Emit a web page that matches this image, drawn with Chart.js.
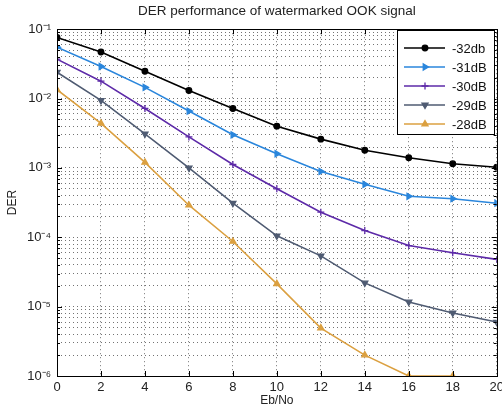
<!DOCTYPE html>
<html>
<head>
<meta charset="utf-8">
<script src="https://cdn.jsdelivr.net/npm/chart.js@4"></script>
<style>
  html, body { margin: 0; padding: 0; background: #fff; }
  #wrap { width: 502px; height: 409px; }
</style>
</head>
<body>
<div id="wrap"><canvas id="der-chart" width="502" height="409"></canvas></div>
<script>
// Eb/No in dB
var ebNo = [0, 2, 4, 6, 8, 10, 12, 14, 16, 18, 20];

// DER, one array per watermark level
var der32 = [0.076, 0.047, 0.0247, 0.0131, 0.0072, 0.0040, 0.0026, 0.0018, 0.0014, 0.00115, 0.00102];
var der31 = [0.055, 0.029, 0.0145, 0.0066, 0.0030, 0.0016, 0.00089, 0.00058, 0.00039, 0.00036, 0.00031];
var der30 = [0.037, 0.0178, 0.0072, 0.0028, 0.00112, 0.00050, 0.00023, 0.000125, 0.000076, 0.00006, 0.000048];
var der29 = [0.024, 0.0094, 0.0031, 0.0010, 0.00031, 0.000105, 0.000054, 0.000022, 0.0000117, 0.0000081, 0.000006];
var der28 = [0.0134, 0.0044, 0.0012, 0.00029, 0.000087, 0.0000213, 0.0000049, 0.000002, 0.000001, 0.000001, null];

var seriesLabels = ['-32db', '-31dB', '-30dB', '-29dB', '-28dB'];
var xTicks = [0, 2, 4, 6, 8, 10, 12, 14, 16, 18, 20];

var sup = {'-': '\u207B', '0': '\u2070', '1': '\u00B9', '2': '\u00B2', '3': '\u00B3', '4': '\u2074', '5': '\u2075', '6': '\u2076'};
function powLabel(e) {
    return '10' + String(e).split('').map(function(c) { return sup[c]; }).join('');
}

function pts(arr) {
    return ebNo.map(function(x, i) { return {x: x, y: arr[i]}; });
}

function makeSet(label, arr, color, style, radius) {
    return {
        label: label,
        data: pts(arr),
        borderColor: color,
        backgroundColor: color,
        borderWidth: 1.6,
        pointStyle: style,
        pointRadius: radius,
        pointBorderWidth: 1.3,
        tension: 0,
        spanGaps: false
    };
}

var datasets = [
    makeSet(seriesLabels[0], der32, '#000000', 'circle', 2.8),
    makeSet(seriesLabels[1], der31, '#2a86dc', 'triangle', 3.5),
    makeSet(seriesLabels[2], der30, '#5d2aa8', 'cross', 3.5),
    makeSet(seriesLabels[3], der29, '#4f5b72', 'triangle', 3.5),
    makeSet(seriesLabels[4], der28, '#dba040', 'triangle', 3.5)
];
datasets[1].pointRotation = 90;
datasets[3].pointRotation = 180;

// all minor positions 1..9 x 10^n, labels only on the decades
function logTicks() {
    var out = [];
    for (var e = -6; e < -1; e++) {
        for (var k = 1; k <= 9; k++) out.push({value: k * Math.pow(10, e)});
    }
    out.push({value: 0.1});
    return out;
}

// matlab style box with inward ticks, plus the legend box
var boxPlugin = {
    id: 'matBox',
    afterDatasetsDraw: function(chart) {
        var ctx = chart.ctx, a = chart.chartArea;
        var xs = chart.scales.x, ys = chart.scales.y;
        ctx.save();
        ctx.strokeStyle = '#000';
        ctx.lineWidth = 1;
        ctx.strokeRect(Math.round(a.left) + 0.5, Math.round(a.top) + 0.5,
            Math.round(a.right - a.left), Math.round(a.bottom - a.top));
        ctx.beginPath();
        xTicks.forEach(function(v) {
            var px = Math.round(xs.getPixelForValue(v)) + 0.5;
            ctx.moveTo(px, a.bottom); ctx.lineTo(px, a.bottom - 5);
            ctx.moveTo(px, a.top); ctx.lineTo(px, a.top + 5);
        });
        ys.ticks.forEach(function(t) {
            var py = Math.round(ys.getPixelForValue(t.value)) + 0.5;
            var major = Math.abs(Math.log10(t.value) - Math.round(Math.log10(t.value))) < 1e-9;
            var len = major ? 5 : 3;
            ctx.moveTo(a.left, py); ctx.lineTo(a.left + len, py);
            ctx.moveTo(a.right, py); ctx.lineTo(a.right - len, py);
        });
        ctx.stroke();
        ctx.restore();
    },
    afterDraw: function(chart) {
        var ctx = chart.ctx;
        var bx = 397, by = 30, bw = 97, bh = 104;
        ctx.save();
        ctx.fillStyle = '#fff';
        ctx.fillRect(bx, by, bw, bh);
        ctx.strokeStyle = '#000';
        ctx.lineWidth = 1;
        ctx.strokeRect(bx + 0.5, by + 0.5, bw, bh);
        ctx.font = '13px "Liberation Sans", Arial, sans-serif';
        ctx.textBaseline = 'middle';
        chart.data.datasets.forEach(function(ds, i) {
            var y = by + 18 + i * 19;
            ctx.strokeStyle = ds.borderColor;
            ctx.lineWidth = ds.borderWidth;
            ctx.beginPath();
            ctx.moveTo(bx + 7, y); ctx.lineTo(bx + 48, y);
            ctx.stroke();
            ctx.fillStyle = ds.backgroundColor;
            ctx.lineWidth = ds.pointBorderWidth;
            Chart.helpers.drawPoint(ctx, {
                pointStyle: ds.pointStyle,
                rotation: ds.pointRotation || 0,
                radius: ds.pointRadius,
                borderWidth: ds.pointBorderWidth
            }, bx + 28, y);
            ctx.fillStyle = '#111';
            ctx.fillText(ds.label, bx + 55, y + 1);
        });
        ctx.restore();
    }
};

var fontFam = '"Liberation Sans", Arial, sans-serif';

var config = {
    type: 'line',
    data: { datasets: datasets },
    options: {
        responsive: false,
        animation: false,
        layout: { padding: { left: 0, right: 5, top: 0, bottom: 0 } },
        plugins: {
            legend: { display: false },
            tooltip: { enabled: false },
            title: {
                display: true,
                fullSize: false,
                text: 'DER performance of watermarked OOK signal',
                color: '#222',
                font: { family: fontFam, size: 13.5, weight: 'normal' },
                padding: { top: 3, bottom: 10 }
            }
        },
        scales: {
            x: {
                type: 'linear',
                min: 0,
                max: 20,
                afterBuildTicks: function(scale) {
                    scale.ticks = xTicks.map(function(v) { return {value: v}; });
                },
                afterFit: function(scale) {
                    scale.height = 33;
                    scale.paddingLeft = 0;
                    scale.paddingRight = 0;
                },
                grid: { color: 'rgba(0,0,0,0.55)', drawTicks: false, lineWidth: 1 },
                border: { display: false, dash: [1, 3] },
                ticks: {
                    color: '#222',
                    padding: 4,
                    maxRotation: 0,
                    autoSkip: false,
                    font: { family: fontFam, size: 13 }
                },
                title: {
                    display: true,
                    text: 'Eb/No',
                    color: '#222',
                    font: { family: fontFam, size: 12 },
                    padding: { top: 0, bottom: 1 }
                }
            },
            y: {
                type: 'logarithmic',
                min: 1e-6,
                max: 1e-1,
                afterBuildTicks: function(scale) {
                    scale.ticks = logTicks();
                },
                afterFit: function(scale) {
                    scale.width = 57;
                    scale.paddingTop = 0;
                    scale.paddingBottom = 0;
                },
                grid: { color: 'rgba(0,0,0,0.55)', drawTicks: false, lineWidth: 1 },
                border: { display: false, dash: [1, 3] },
                ticks: {
                    color: '#222',
                    padding: 6,
                    autoSkip: false,
                    font: { family: fontFam, size: 13 },
                    callback: function(v) {
                        var e = Math.log10(v);
                        if (Math.abs(e - Math.round(e)) < 1e-9) return powLabel(Math.round(e));
                        return '';
                    }
                },
                title: {
                    display: true,
                    text: 'DER',
                    color: '#222',
                    font: { family: fontFam, size: 12 },
                    padding: { top: 5, bottom: 2 }
                }
            }
        }
    },
    plugins: [boxPlugin]
};

var derCanvas = document.getElementById('der-chart').getContext('2d');
window.derChart = new Chart(derCanvas, config);
</script>
</body>
</html>
